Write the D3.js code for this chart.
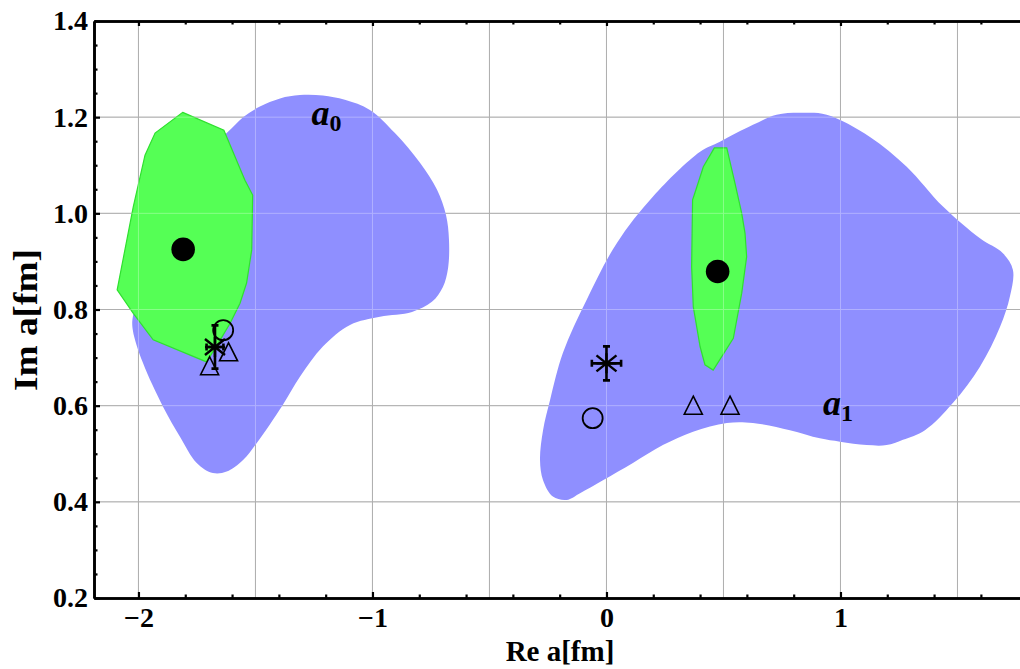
<!DOCTYPE html>
<html><head><meta charset="utf-8">
<script src="https://cdn.jsdelivr.net/npm/d3@7"></script>
<style>
body{margin:0;background:#fff}
svg{display:block}
text{font-family:"Liberation Serif","Times New Roman",serif;font-weight:bold;fill:#000}
</style>
</head><body>
<svg id="c" width="1020" height="669"></svg>
<script>
// ---------- data (Re a, Im a in fm) ----------
const a0Blue = [[-1.623,1.167],[-1.553,1.200],[-1.481,1.222],[-1.395,1.239],[-1.310,1.246],[-1.212,1.245],[-1.118,1.236],[-1.011,1.215],[-0.904,1.167],[-0.797,1.105],[-0.724,1.049],[-0.686,0.997],[-0.673,0.945],[-0.677,0.886],[-0.699,0.847],[-0.746,0.816],[-0.831,0.795],[-0.968,0.785],[-1.096,0.768],[-1.212,0.723],[-1.310,0.660],[-1.384,0.601],[-1.495,0.522],[-1.553,0.487],[-1.623,0.463],[-1.682,0.460],[-1.751,0.481],[-1.822,0.535],[-1.895,0.598],[-1.981,0.689],[-2.024,0.757],[-2.024,0.785],[-1.972,0.861],[-1.844,1.028],[-1.716,1.132]];
const a0Green = [[-1.811,1.210],[-1.635,1.173],[-1.545,1.069],[-1.512,1.038],[-1.516,0.924],[-1.538,0.855],[-1.566,0.813],[-1.609,0.771],[-1.659,0.730],[-1.709,0.691],[-1.937,0.737],[-2.022,0.792],[-2.091,0.841],[-2.022,1.014],[-1.972,1.121],[-1.929,1.167]];
const a1Blue = [[0.400,1.128],[0.485,1.149],[0.626,1.184],[0.727,1.205],[0.840,1.209],[0.941,1.205],[1.126,1.159],[1.283,1.097],[1.438,1.014],[1.596,0.948],[1.694,0.917],[1.737,0.882],[1.724,0.827],[1.682,0.764],[1.596,0.681],[1.481,0.606],[1.361,0.549],[1.267,0.529],[1.197,0.518],[1.112,0.518],[0.998,0.525],[0.912,0.532],[0.784,0.549],[0.626,0.564],[0.514,0.564],[0.370,0.546],[0.241,0.518],[0.113,0.481],[-0.015,0.445],[-0.113,0.418],[-0.170,0.404],[-0.229,0.411],[-0.271,0.445],[-0.284,0.487],[-0.271,0.549],[-0.241,0.612],[-0.186,0.710],[-0.085,0.820],[0.044,0.938],[0.199,1.035]];
const a1Green = [[0.461,1.136],[0.514,1.136],[0.549,1.063],[0.578,1.000],[0.592,0.959],[0.599,0.910],[0.578,0.834],[0.542,0.740],[0.456,0.674],[0.421,0.685],[0.400,0.723],[0.371,0.806],[0.364,0.889],[0.368,1.028],[0.375,1.038],[0.414,1.097]];

const filledPts = [[-1.809,0.925],[0.475,0.879]];
const openPts   = [[-1.638,0.757],[-0.059,0.574]];
const triPts    = [[-1.696,0.683],[-1.615,0.712],[0.371,0.601],[0.528,0.601]];
const starX  = [-1.673, 0.000];
const starY  = [0.722, 0.688];
const starEx = [0.036, 0.0625];
const starEy = [0.045, 0.0354];

const labels = [{t:"a",s:"0",x:-1.260,y:1.184},{t:"a",s:"1",x:0.925,y:0.581}];

const xMajor = [-2,-1,0,1];
const xMinor = [-1.8,-1.6,-1.4,-1.2,-0.8,-0.6,-0.4,-0.2,0.2,0.4,0.6,0.8,1.2,1.4,1.6];
const yMajor = [0.2,0.4,0.6,0.8,1.0,1.2,1.4];
const yMinor = [0.25,0.3,0.35,0.45,0.5,0.55,0.65,0.7,0.75,0.85,0.9,0.95,1.05,1.1,1.15,1.25,1.3,1.35];
const xGrid = [-2,-1.5,-1,-0.5,0,0.5,1,1.5];
const yGrid = [0.4,0.6,0.8,1.0,1.2];
const xTitle = "Re a[fm]";
const yTitle = "Im a[fm]";

// ---------- drawing ----------
const svg = d3.select("#c");
const x = d3.scaleLinear().domain([-2.19,1.78]).range([94,1023]);
const y = d3.scaleLinear().domain([0.2,1.4]).range([598,21]);

// grid
const g = svg.append("g");
g.selectAll(".vg").data(xGrid).join("line")
  .attr("x1",d=>x(d)).attr("x2",d=>x(d)).attr("y1",y(1.4)).attr("y2",y(0.2))
  .attr("stroke","#8c8c8c").attr("stroke-width",1);
g.selectAll(".hg").data(yGrid).join("line")
  .attr("x1",x(-2.19)).attr("x2",x(1.78)).attr("y1",d=>y(d)).attr("y2",d=>y(d))
  .attr("stroke","#8c8c8c").attr("stroke-width",1);

const smooth = d3.line().x(d=>x(d[0])).y(d=>y(d[1])).curve(d3.curveCatmullRomClosed.alpha(0.5));
const poly = d3.line().x(d=>x(d[0])).y(d=>y(d[1])).curve(d3.curveLinearClosed);

[a0Blue,a1Blue].forEach(p=>svg.append("path").attr("d",smooth(p)).attr("fill","#8f8fff"));
[a0Green,a1Green].forEach(p=>svg.append("path").attr("d",poly(p)).attr("fill","#55ff55")
   .attr("stroke","#2fe02f").attr("stroke-width",1.2));

// faint grid over regions
const g2 = svg.append("g").attr("opacity",0.3);
g2.selectAll(".vg").data(xGrid).join("line")
  .attr("x1",d=>x(d)).attr("x2",d=>x(d)).attr("y1",y(1.4)).attr("y2",y(0.2))
  .attr("stroke","#ffffff").attr("stroke-width",1);
g2.selectAll(".hg").data(yGrid).join("line")
  .attr("x1",x(-2.19)).attr("x2",x(1.78)).attr("y1",d=>y(d)).attr("y2",d=>y(d))
  .attr("stroke","#ffffff").attr("stroke-width",1);

// markers
svg.selectAll(".fc").data(filledPts).join("circle")
  .attr("cx",d=>x(d[0])).attr("cy",d=>y(d[1])).attr("r",11.8).attr("fill","#000");
svg.selectAll(".oc").data(openPts).join("circle")
  .attr("cx",d=>x(d[0])).attr("cy",d=>y(d[1])).attr("r",10).attr("fill","none")
  .attr("stroke","#000").attr("stroke-width",1.8);
svg.selectAll(".tr").data(triPts).join("path")
  .attr("transform",d=>`translate(${x(d[0])},${y(d[1])})`)
  .attr("d",()=>{const w=9,h=9;return `M0,${-h}L${w},${h}L${-w},${h}Z`;})
  .attr("fill","none").attr("stroke","#000").attr("stroke-width",1.6).attr("stroke-linejoin","miter");

// stars with error bars
const stars = starX.map((v,i)=>({x:v,y:starY[i],ex:starEx[i],ey:starEy[i]}));
const sg = svg.selectAll(".st").data(stars).join("g");
sg.append("path").attr("d",d=>{
    const cx=x(d.x), cy=y(d.y), x1=x(d.x-d.ex), x2=x(d.x+d.ex), y1=y(d.y+d.ey), y2=y(d.y-d.ey), c=3.5;
    return `M${x1},${cy}H${x2}M${cx},${y1}V${y2}`+
      `M${x1},${cy-c}V${cy+c}M${x2},${cy-c}V${cy+c}`+
      `M${cx-c},${y1}H${cx+c}M${cx-c},${y2}H${cx+c}`;
  }).attr("stroke","#000").attr("stroke-width",2.6).attr("fill","none");
sg.append("path").attr("d",d=>{
    const cx=x(d.x), cy=y(d.y), a=10, b=8;
    return `M${cx-a},${cy-b}L${cx+a},${cy+b}M${cx-a},${cy+b}L${cx+a},${cy-b}M${cx-a},${cy}H${cx+a}M${cx},${cy-a}V${cy+a}`;
  }).attr("stroke","#000").attr("stroke-width",2.4).attr("fill","none");

// region labels
const lt = svg.selectAll(".lb").data(labels).join("text")
  .attr("x",d=>x(d.x)).attr("y",d=>y(d.y));
lt.append("tspan").text(d=>d.t).attr("font-style","italic").attr("font-size",36);
lt.append("tspan").text(d=>d.s).attr("font-size",24).attr("dy",6.5);

// axes
const fmtX = d=> d<0 ? "\u2212"+Math.abs(d) : String(d);
const axB = svg.append("g").attr("transform",`translate(0,${y(0.2)})`)
  .call(d3.axisBottom(x).tickValues(xMajor).tickSize(-6).tickSizeOuter(0).tickPadding(9).tickFormat(fmtX));
const axBm = svg.append("g").attr("transform",`translate(0,${y(0.2)})`)
  .call(d3.axisBottom(x).tickValues(xMinor).tickSize(-3.5).tickSizeOuter(0).tickFormat(""));
const axT = svg.append("g").attr("transform",`translate(0,${y(1.4)})`)
  .call(d3.axisTop(x).tickValues(xMajor).tickSize(-5).tickSizeOuter(0).tickFormat(""));
const axTm = svg.append("g").attr("transform",`translate(0,${y(1.4)})`)
  .call(d3.axisTop(x).tickValues(xMinor).tickSize(-3.5).tickSizeOuter(0).tickFormat(""));
const axL = svg.append("g").attr("transform",`translate(${x(-2.19)},0)`)
  .call(d3.axisLeft(y).tickValues(yMajor).tickSize(-6).tickSizeOuter(0).tickPadding(6).tickFormat(d3.format(".1f")));
const axLm = svg.append("g").attr("transform",`translate(${x(-2.19)},0)`)
  .call(d3.axisLeft(y).tickValues(yMinor).tickSize(-3.5).tickSizeOuter(0).tickFormat(""));
[axB,axBm,axT,axTm,axL,axLm].forEach(a=>{
  a.select(".domain").attr("stroke","#000").attr("stroke-width",2.6);
  a.selectAll(".tick line").attr("stroke","#000").attr("stroke-width",2.2);
  a.selectAll(".tick text").style("font-family",'"Liberation Serif","Times New Roman",serif')
    .style("font-weight","bold").attr("font-size",28).attr("fill","#000");
});
axB.selectAll(".tick text").attr("dy","0.71em");

// titles
svg.append("text").attr("x",560).attr("y",661).attr("text-anchor","middle")
  .attr("font-size",29).text(xTitle);
svg.append("text").attr("transform","translate(37,320) rotate(-90)").attr("text-anchor","middle")
  .attr("font-size",33).attr("textLength",142).attr("lengthAdjust","spacingAndGlyphs").text(yTitle);
</script>
</body></html>
